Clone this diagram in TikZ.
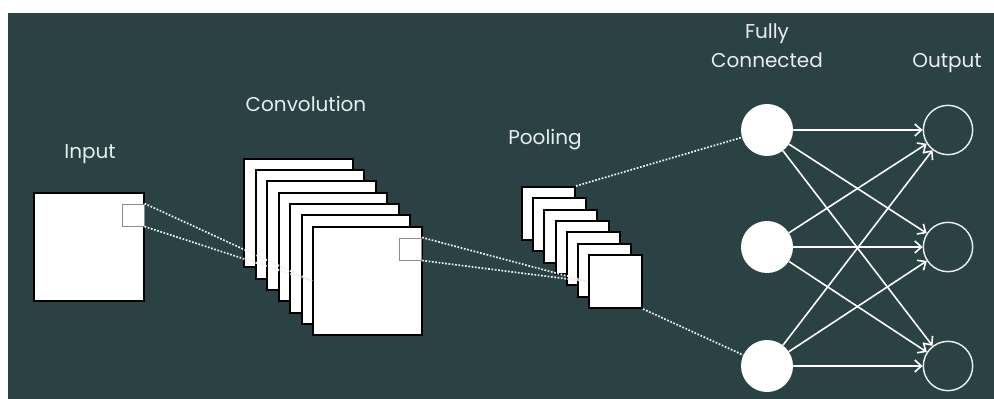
\documentclass[tikz,border=0pt]{standalone}
\usepackage{fontspec}
\setmainfont{Poppins}
\usetikzlibrary{arrows.meta}
\definecolor{boardbg}{HTML}{2A4244}
\definecolor{labelfg}{HTML}{E8EEEE}
\definecolor{winedge}{HTML}{8C8C8C}

\begin{document}
\begin{tikzpicture}[x=0.75pt,y=0.75pt,yscale=-1,xscale=1,
    fmap/.style={draw=black, fill=white, line width=1.5pt, inner sep=0pt},
    win/.style={draw=winedge, fill=white, line width=0.75pt, inner sep=0pt, minimum size=16.5pt},
    link/.style={labelfg, line width=1.3pt, dash pattern=on 1.3pt off 1.2pt},
    neuron/.style={circle, fill=white, inner sep=0pt, minimum size=39pt},
    outunit/.style={circle, draw=labelfg, line width=1.1pt, inner sep=0pt, minimum size=37pt},
    wire/.style={white, line width=1.2pt, -{Straight Barb[length=5pt,width=9pt]}},
    caption/.style={text=labelfg, inner sep=0pt, anchor=base, font=\fontsize{15}{21.75}\selectfont}]
    \useasboundingbox (0,0) rectangle (994,399);
    \fill [white] (0,0) rectangle (994,399);
    \fill [boardbg] (8,13) rectangle (994,399);
    % input image and its window
    \node [fmap, minimum width=82pt, minimum height=80.5pt] (in) at (89,247) {};
    \node [win] (inwin) at (133,215) {};
    % convolution maps
    \node [fmap, minimum size=81.5pt] (c1) at (298.5,213) {};
    \node [fmap, minimum size=81.5pt] (c2) at (310,224.3) {};
    \node [fmap, minimum size=81.5pt] (c3) at (321.5,235.7) {};
    \node [fmap, minimum size=81.5pt] (c4) at (333,247) {};
    \node [fmap, minimum size=81.5pt] (c5) at (344.5,258.3) {};
    \node [fmap, minimum size=81.5pt] (c6) at (356,269.7) {};
    \node [fmap, minimum size=81.5pt] (c7) at (367.5,281) {};
    \node [win] (cwin) at (410.5,249) {};
    % pooling maps
    \node [fmap, minimum size=39.75pt] (p1) at (548.5,213.5) {};
    \node [fmap, minimum size=39.75pt] (p2) at (559.7,224.8) {};
    \node [fmap, minimum size=39.75pt] (p3) at (570.8,236.2) {};
    \node [fmap, minimum size=39.75pt] (p4) at (582,247.5) {};
    \node [fmap, minimum size=39.75pt] (p5) at (593.2,258.8) {};
    \node [fmap, minimum size=39.75pt] (p6) at (604.3,270.2) {};
    \node [fmap, minimum size=39.75pt] (p7) at (615.5,281.5) {};
    % dense layers
    \node [neuron] (f1) at (767,130) {};
    \node [neuron] (f2) at (767,247) {};
    \node [neuron] (f3) at (767,366) {};
    \node [outunit] (o1) at (948,130) {};
    \node [outunit] (o2) at (948,247) {};
    \node [outunit] (o3) at (948,366) {};
    % receptive field lines
    \draw [link] (inwin.north east) -- (c7.west);
    \draw [link] (inwin.south east) -- (c7.west);
    \draw [link] (cwin.north east) -- (p7.west);
    \draw [link] (cwin.south east) -- (p7.west);
    \draw [link] (p1.north east) -- (f1);
    \draw [link] (p7.south east) -- (f3);
    \draw [wire] (f1) -- (o1);
    \draw [wire] (f1) -- (o2);
    \draw [wire] (f1) -- (o3);
    \draw [wire] (f2) -- (o1);
    \draw [wire] (f2) -- (o2);
    \draw [wire] (f2) -- (o3);
    \draw [wire] (f3) -- (o1);
    \draw [wire] (f3) -- (o2);
    \draw [wire] (f3) -- (o3);
    \node [caption] (tin) at (90,158) {Input};
    \node [caption] (tconv) at (306,112) {Convolution};
    \node [caption] (tpool) at (545,144) {Pooling};
    \node [caption, align=center] (tfc) at (767,68) {Fully\\Connected};
    \node [caption] (tout) at (947,68) {Output};
\end{tikzpicture}
\end{document}
